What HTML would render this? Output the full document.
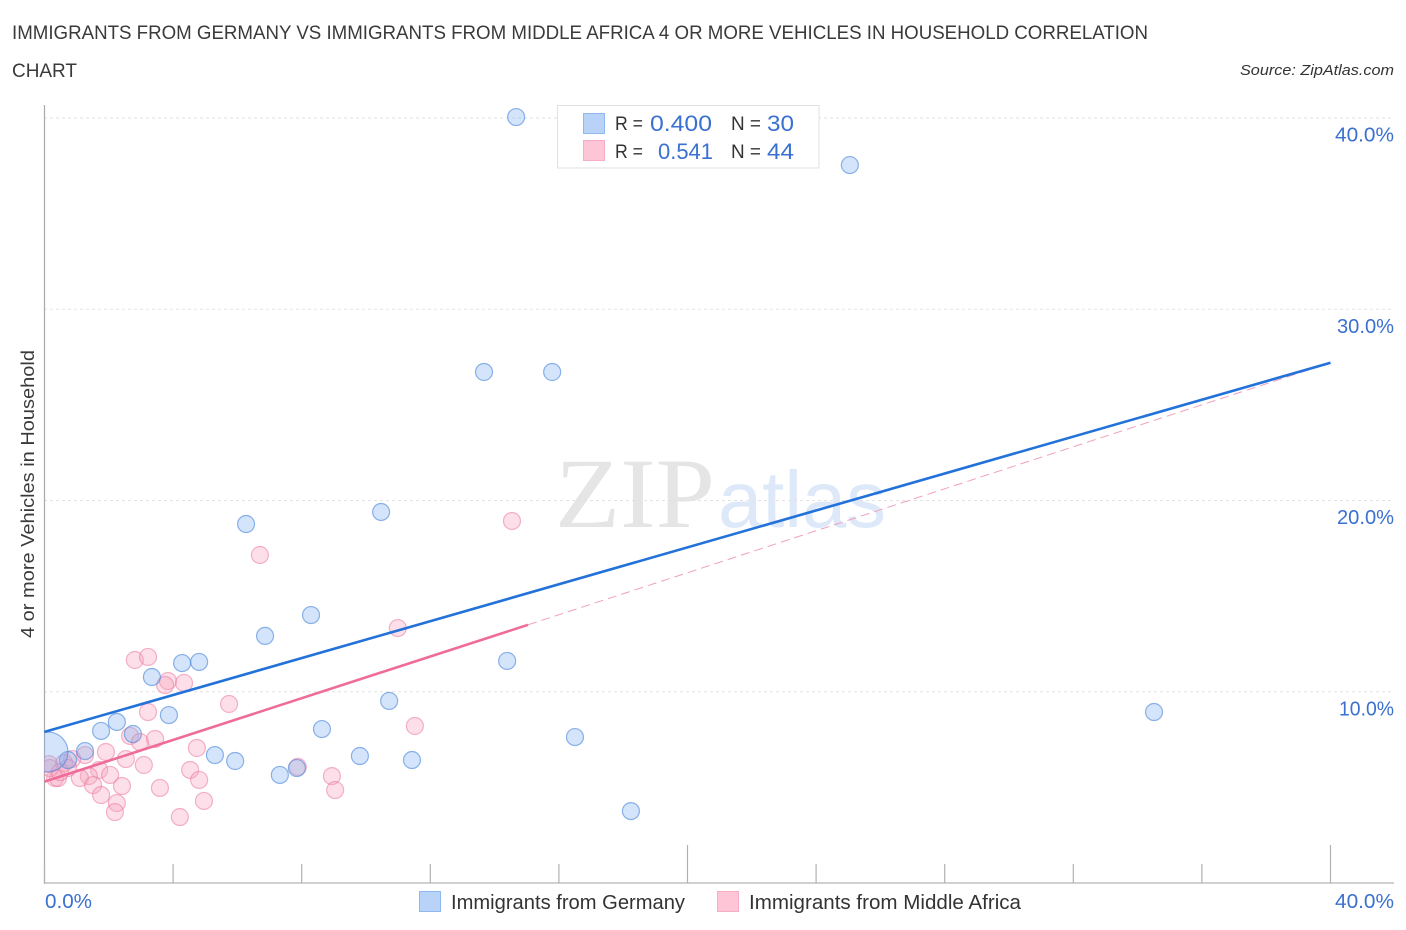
<!DOCTYPE html>
<html lang="en">
<head>
<meta charset="utf-8">
<title>Immigrants from Germany vs Immigrants from Middle Africa correlation chart</title>
<style>
html,body{margin:0;padding:0;background:#fff;width:1406px;height:930px;overflow:hidden}
svg{display:block}
text{font-family:"Liberation Sans",sans-serif}
</style>
</head>
<body>
<svg id="chart" xmlns="http://www.w3.org/2000/svg" width="1406" height="930" viewBox="0 0 1406 930">
  <defs>
    <clipPath id="plot-clip"><rect x="44" y="100" width="1350" height="783"/></clipPath>
  </defs>
  <text x="12" y="39" font-size="19" fill="#3a3a3a" textLength="1136" lengthAdjust="spacingAndGlyphs">IMMIGRANTS FROM GERMANY VS IMMIGRANTS FROM MIDDLE AFRICA 4 OR MORE VEHICLES IN HOUSEHOLD CORRELATION</text>
  <text x="12" y="77" font-size="19" fill="#3a3a3a" textLength="65" lengthAdjust="spacingAndGlyphs">CHART</text>
  <text x="1394" y="75" font-size="15" font-style="italic" fill="#333" text-anchor="end" textLength="154" lengthAdjust="spacingAndGlyphs">Source: ZipAtlas.com</text>

  <g>
    <text x="555" y="527" font-size="100" fill="#e5e5e5" textLength="160" lengthAdjust="spacingAndGlyphs" style="font-family:'Liberation Serif',serif">ZIP</text>
    <text x="718" y="527" font-size="80" fill="#dde9f9" textLength="168" lengthAdjust="spacingAndGlyphs">atlas</text>
  </g>

  <g id="grid"></g>
  <g id="axes"></g>
  <g id="points" clip-path="url(#plot-clip)"></g>
  <g id="lines"></g>
  <g id="tick-labels"></g>

  <text transform="translate(34,638) rotate(-90)" x="0" y="0" font-size="18.5" fill="#3a3a3a" textLength="288" lengthAdjust="spacingAndGlyphs">4 or more Vehicles in Household</text>

  <g>
    <rect x="557.5" y="105.5" width="261.5" height="62.5" fill="#fff" stroke="#e0e0e0" stroke-width="1"/>
    <rect x="583.5" y="113.5" width="21" height="20" fill="#b9d3f8" stroke="#8fb8ee"/>
    <text x="615" y="130" font-size="19" fill="#333" textLength="28" lengthAdjust="spacingAndGlyphs">R =</text>
    <text x="650" y="131" font-size="22" fill="#3a70d0" textLength="62" lengthAdjust="spacingAndGlyphs">0.400</text>
    <text x="731" y="130" font-size="19" fill="#333" textLength="30" lengthAdjust="spacingAndGlyphs">N =</text>
    <text x="767" y="131" font-size="22" fill="#3a70d0" textLength="27" lengthAdjust="spacingAndGlyphs">30</text>
    <rect x="583.5" y="140.5" width="21" height="20" fill="#fdc5d6" stroke="#f5aec5"/>
    <text x="615" y="158" font-size="19" fill="#333" textLength="28" lengthAdjust="spacingAndGlyphs">R =</text>
    <text x="658" y="159" font-size="22" fill="#3a70d0" textLength="55" lengthAdjust="spacingAndGlyphs">0.541</text>
    <text x="731" y="158" font-size="19" fill="#333" textLength="30" lengthAdjust="spacingAndGlyphs">N =</text>
    <text x="767" y="159" font-size="22" fill="#3a70d0" textLength="27" lengthAdjust="spacingAndGlyphs">44</text>
  </g>

  <g>
    <rect x="419.5" y="891.5" width="21" height="20" fill="#b9d3f8" stroke="#8fb8ee"/>
    <text x="451" y="909" font-size="20" fill="#333" textLength="234" lengthAdjust="spacingAndGlyphs">Immigrants from Germany</text>
    <rect x="717.5" y="891.5" width="21" height="20" fill="#fdc5d6" stroke="#f5aec5"/>
    <text x="749" y="909" font-size="20" fill="#333" textLength="272" lengthAdjust="spacingAndGlyphs">Immigrants from Middle Africa</text>
  </g>
</svg>
<script>
const germanyX = [14.67,25.05,13.67,15.79,10.47,6.27,8.29,6.86,14.39,4.81,4.28,3.34,3.87,10.72,8.63,2.75,2.25,1.76,34.51,16.50,1.26,9.81,5.30,5.93,11.43,7.32,7.85,18.24,0.73,0.11];
const germanyY = [40.05,37.54,26.72,26.72,19.40,18.77,14.01,12.92,11.61,11.56,11.50,10.77,8.78,9.52,8.05,7.79,8.42,7.95,8.94,7.63,6.90,6.64,6.69,6.38,6.43,5.65,6.01,3.76,6.43,6.85];
const germanyWeight = [1,1,1,1,1,1,1,1,1,1,1,1,1,1,1,1,1,1,1,1,1,1,1,1,1,1,1,1,1,5.5];
const africaX = [14.54,6.70,10.99,11.52,2.81,3.22,3.84,3.75,4.34,5.74,3.22,2.66,2.97,3.44,4.74,1.91,1.26,0.86,2.53,3.09,4.53,4.81,1.70,2.04,1.38,1.10,1.51,2.41,1.76,3.59,2.25,2.19,4.96,4.21,7.88,8.94,9.04,0.14,0.33,0.42,0.61,0.73,0.17,0.48];
const africaY = [18.93,17.15,13.33,8.21,11.66,11.82,10.56,10.35,10.46,9.36,8.94,7.69,7.37,7.53,7.06,6.85,6.69,6.48,6.48,6.17,5.91,5.39,5.91,5.65,5.59,5.49,5.12,5.07,4.60,4.97,4.18,3.71,4.29,3.45,6.07,5.59,4.86,6.22,5.49,5.49,6.27,6.01,6.01,5.80];
const germanyTrendX = [0,40];
const germanyTrendY = [7.9,27.2];
const africaTrendX = [0,15.04];
const africaTrendY = [5.3,13.5];
const africaExtensionX = [15.04,40];
const africaExtensionY = [13.5,27.2];
const yTicks = [10,20,30,40];
const yTickLabels = ["10.0%","20.0%","30.0%","40.0%"];
const xTicks = [0,4,8,12,16,20,24,28,32,36,40];
const xMajorTicks = [20,40];
const xTickLabels = ["0.0%","40.0%"];

const NS = "http://www.w3.org/2000/svg";
const sx = v => 44.5 + v * 32.15;
const sy = v => 883 - v * 19.125;
function make(tag, attrs, parent){
  const el = document.createElementNS(NS, tag);
  for (const k in attrs) el.setAttribute(k, attrs[k]);
  parent.appendChild(el);
  return el;
}
const gGrid = document.getElementById("grid");
const gAxes = document.getElementById("axes");
const gPts = document.getElementById("points");
const gLines = document.getElementById("lines");
const gLabels = document.getElementById("tick-labels");

function labelWidth(s){
  const first = s.charAt(0);
  if (first === "1") return 55;
  if (first === "4") return 59;
  return 57;
}

yTicks.forEach((t, i) => {
  const line = make("line", {x1:44, x2:1394, y1:sy(t), y2:sy(t), stroke:"#e2e2e2", "stroke-width":1, "stroke-dasharray":"3 3"}, gGrid);
  
  
  const label = make("text", {x:1394, y:sy(t)+23.5, "font-size":20, fill:"#3a70d0", "text-anchor":"end", textLength:labelWidth(yTickLabels[i]), lengthAdjust:"spacingAndGlyphs"}, gLabels);
  label.textContent = yTickLabels[i];
  
  
});

const yAxisLine = make("line", {x1:44.5, x2:44.5, y1:105, y2:884, stroke:"#aaa", "stroke-width":1.2}, gAxes);


const xAxisLine = make("line", {x1:44, x2:1394, y1:883, y2:883, stroke:"#c0c0c0", "stroke-width":1.5}, gAxes);


xTicks.forEach(t => {
  const top = xMajorTicks.includes(t) ? 845 : 864;
  const tick = make("line", {x1:sx(t), x2:sx(t), y1:top, y2:883, stroke:"#b0b0b0", "stroke-width":1.2}, gAxes);
  
  
});

const x0Label = make("text", {x:45, y:908, "font-size":20, fill:"#3a70d0", textLength:47, lengthAdjust:"spacingAndGlyphs"}, gLabels);
x0Label.textContent = xTickLabels[0];


const x1Label = make("text", {x:1394, y:908, "font-size":20, fill:"#3a70d0", "text-anchor":"end", textLength:59, lengthAdjust:"spacingAndGlyphs"}, gLabels);
x1Label.textContent = xTickLabels[1];



africaX.forEach((x, i) => {
  const c = make("circle", {cx:sx(x), cy:sy(africaY[i]), r:8.5, fill:"rgba(247,165,190,0.36)", stroke:"rgba(235,120,160,0.55)", "stroke-width":1.2}, gPts);
  
  
});
germanyX.forEach((x, i) => {
  const c = make("circle", {cx:sx(x), cy:sy(germanyY[i]), r:8.5*Math.sqrt(germanyWeight[i]), fill:"rgba(130,175,240,0.34)", stroke:"rgba(75,135,220,0.62)", "stroke-width":1.2}, gPts);
  
  
});

const ext = make("line", {x1:sx(africaExtensionX[0]), y1:sy(africaExtensionY[0]), x2:sx(africaExtensionX[1]), y2:sy(africaExtensionY[1]), stroke:"#f0a0bd", "stroke-width":1, "stroke-dasharray":"9 5"}, gLines);


const africaLine = make("line", {x1:sx(africaTrendX[0]), y1:sy(africaTrendY[0]), x2:sx(africaTrendX[1]), y2:sy(africaTrendY[1]), stroke:"#ef6c9a", "stroke-width":2.6}, gLines);


const germanyLine = make("line", {x1:sx(germanyTrendX[0]), y1:sy(germanyTrendY[0]), x2:sx(germanyTrendX[1]), y2:sy(germanyTrendY[1]), stroke:"#2272d9", "stroke-width":2.6}, gLines);


</script>
</body>
</html>
